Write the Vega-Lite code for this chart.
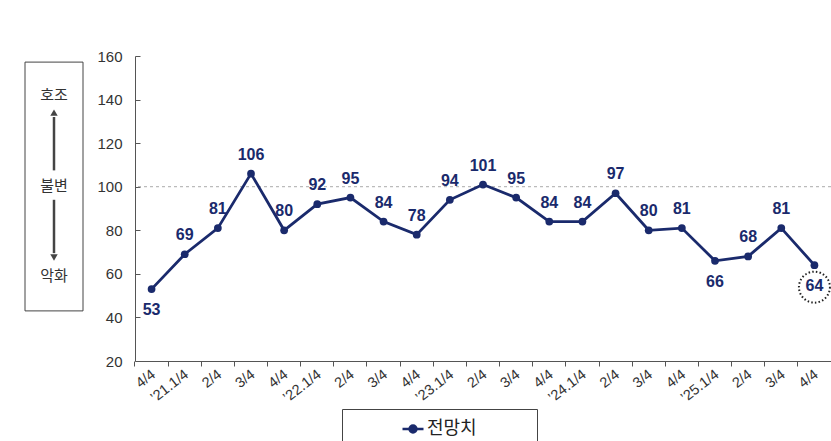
{
  "$schema": "https://vega.github.io/schema/vega-lite/v6.json",
  "background": "white",
  "padding": {"left": 24, "top": 49, "right": 0, "bottom": 0},
  "bounds": "flush",
  "spacing": 52,
  "config": {"view": {"stroke": null}, "font": "Noto Sans CJK KR"},
  "hconcat": [
    {
      "width": 58,
      "height": 305,
      "layer": [
        {
          "data": {"values": [{"top": 157.2, "bottom": 43}]},
          "mark": {"type": "rect", "fillOpacity": 0, "stroke": "#444", "strokeWidth": 1},
          "encoding": {
            "x": {"datum": 0, "type": "quantitative", "scale": {"domain": [0, 1]}, "axis": null},
            "x2": {"datum": 1},
            "y": {"field": "top", "type": "quantitative", "scale": {"domain": [20, 160]}, "axis": null},
            "y2": {"field": "bottom"}
          }
        },
        {
          "data": {"values": [{"from": 107.5, "to": 132}, {"from": 94, "to": 69.5}]},
          "mark": {"type": "rule", "color": "#444", "strokeWidth": 2.5},
          "encoding": {
            "x": {"datum": 0.5, "type": "quantitative"},
            "y": {"field": "from", "type": "quantitative"},
            "y2": {"field": "to"}
          }
        },
        {
          "data": {"values": [{"v": 134, "dir": "up"}, {"v": 67.5, "dir": "down"}]},
          "mark": {"type": "point", "filled": true, "color": "#444", "size": 55, "opacity": 1},
          "encoding": {
            "x": {"datum": 0.5, "type": "quantitative"},
            "y": {"field": "v", "type": "quantitative"},
            "shape": {"field": "dir", "type": "nominal", "scale": {"domain": ["up", "down"], "range": ["triangle-up", "triangle-down"]}, "legend": null}
          }
        },
        {
          "data": {"values": [{"label": "호조", "v": 142}, {"label": "불변", "v": 100.3}, {"label": "악화", "v": 58.8}]},
          "mark": {"type": "text", "fontSize": 15, "color": "#333", "baseline": "middle", "align": "center"},
          "encoding": {
            "x": {"datum": 0.5, "type": "quantitative"},
            "y": {"field": "v", "type": "quantitative"},
            "text": {"field": "label"}
          }
        }
      ]
    },
    {
      "width": 696,
      "height": 305,
      "data": {
        "values": [
          {"period": "’20.4/4", "value": 53, "series": "전망치"},
          {"period": "’21.1/4", "value": 69, "series": "전망치"},
          {"period": "’21.2/4", "value": 81, "series": "전망치"},
          {"period": "’21.3/4", "value": 106, "series": "전망치"},
          {"period": "’21.4/4", "value": 80, "series": "전망치"},
          {"period": "’22.1/4", "value": 92, "series": "전망치"},
          {"period": "’22.2/4", "value": 95, "series": "전망치"},
          {"period": "’22.3/4", "value": 84, "series": "전망치"},
          {"period": "’22.4/4", "value": 78, "series": "전망치"},
          {"period": "’23.1/4", "value": 94, "series": "전망치"},
          {"period": "’23.2/4", "value": 101, "series": "전망치"},
          {"period": "’23.3/4", "value": 95, "series": "전망치"},
          {"period": "’23.4/4", "value": 84, "series": "전망치"},
          {"period": "’24.1/4", "value": 84, "series": "전망치"},
          {"period": "’24.2/4", "value": 97, "series": "전망치"},
          {"period": "’24.3/4", "value": 80, "series": "전망치"},
          {"period": "’24.4/4", "value": 81, "series": "전망치"},
          {"period": "’25.1/4", "value": 66, "series": "전망치"},
          {"period": "’25.2/4", "value": 68, "series": "전망치"},
          {"period": "’25.3/4", "value": 81, "series": "전망치"},
          {"period": "’25.4/4", "value": 64, "series": "전망치"}
        ]
      },
      "layer": [
        {
          "data": {"values": [{"ref": 100}]},
          "mark": {"type": "rule", "color": "#aaaaaa", "strokeDash": [3, 3], "strokeWidth": 1},
          "encoding": {"y": {"field": "ref", "type": "quantitative"}}
        },
        {
          "mark": {"type": "line", "strokeWidth": 2.8},
          "encoding": {
            "x": {
              "field": "period", "type": "ordinal", "sort": null,
              "scale": {"type": "band", "paddingInner": 0, "paddingOuter": 0},
              "axis": {
                "title": null, "bandPosition": 0, "labelOffset": -2, "labelAngle": -38,
                "labelFont": "Liberation Sans", "labelFontSize": 14.5, "labelColor": "#333",
                "domainColor": "#555", "tickColor": "#555",
                "tickSize": 5, "labelPadding": 1,
                "labelExpr": "substring(datum.value, 4, 5) == '1' ? datum.value : substring(datum.value, 4)"
              }
            },
            "y": {
              "field": "value", "type": "quantitative",
              "scale": {"domain": [20, 160], "nice": false, "zero": false},
              "axis": {
                "title": null, "values": [20, 40, 60, 80, 100, 120, 140, 160], "grid": false,
                "labelFont": "Liberation Sans", "labelFontSize": 15, "labelColor": "#333",
                "domainColor": "#555", "tickColor": "#555",
                "tickSize": -5, "labelPadding": 18
              }
            },
            "color": {
              "field": "series", "type": "nominal",
              "scale": {"range": ["#1a2a6c"]},
              "legend": {
                "orient": "none", "legendX": 317, "legendY": 353,
                "title": " ", "titleOrient": "right", "titlePadding": 52,
                "symbolType": "M-1,0H1M-0.33,0A0.33,0.33 0 1,1 0.33,0A0.33,0.33 0 1,1 -0.33,0Z",
                "symbolSize": 441, "symbolStrokeWidth": 2.5,
                "symbolFillColor": "#1a2a6c", "symbolStrokeColor": "#1a2a6c",
                "symbolOffset": 51, "labelOffset": 2,
                "labelFontSize": 18, "labelColor": "#222",
                "strokeColor": "#444", "padding": 8
              }
            }
          }
        },
        {
          "mark": {"type": "point", "filled": true, "size": 60, "color": "#1a2a6c", "opacity": 1},
          "encoding": {
            "x": {"field": "period", "type": "ordinal", "sort": null},
            "y": {"field": "value", "type": "quantitative"}
          }
        },
        {
          "transform": [{"filter": {"not": {"field": "period", "oneOf": ["’20.4/4", "’25.1/4", "’25.4/4"]}}}],
          "mark": {"type": "text", "dy": -19, "font": "Liberation Sans", "fontSize": 16, "fontWeight": "bold", "color": "#1a2a6c", "baseline": "middle"},
          "encoding": {
            "x": {"field": "period", "type": "ordinal", "sort": null},
            "y": {"field": "value", "type": "quantitative"},
            "text": {"field": "value"}
          }
        },
        {
          "transform": [{"filter": {"field": "period", "oneOf": ["’20.4/4", "’25.1/4", "’25.4/4"]}}],
          "mark": {"type": "text", "dy": 21, "font": "Liberation Sans", "fontSize": 16, "fontWeight": "bold", "color": "#1a2a6c", "baseline": "middle"},
          "encoding": {
            "x": {"field": "period", "type": "ordinal", "sort": null},
            "y": {"field": "value", "type": "quantitative"},
            "text": {"field": "value"}
          }
        },
        {
          "transform": [{"filter": {"field": "period", "equal": "’25.4/4"}}],
          "mark": {"type": "point", "shape": "circle", "size": 960, "filled": false, "stroke": "#222", "strokeWidth": 2, "strokeDash": [1.5, 2.2], "yOffset": 22, "opacity": 1},
          "encoding": {
            "x": {"field": "period", "type": "ordinal", "sort": null},
            "y": {"field": "value", "type": "quantitative"}
          }
        }
      ]
    }
  ]
}
